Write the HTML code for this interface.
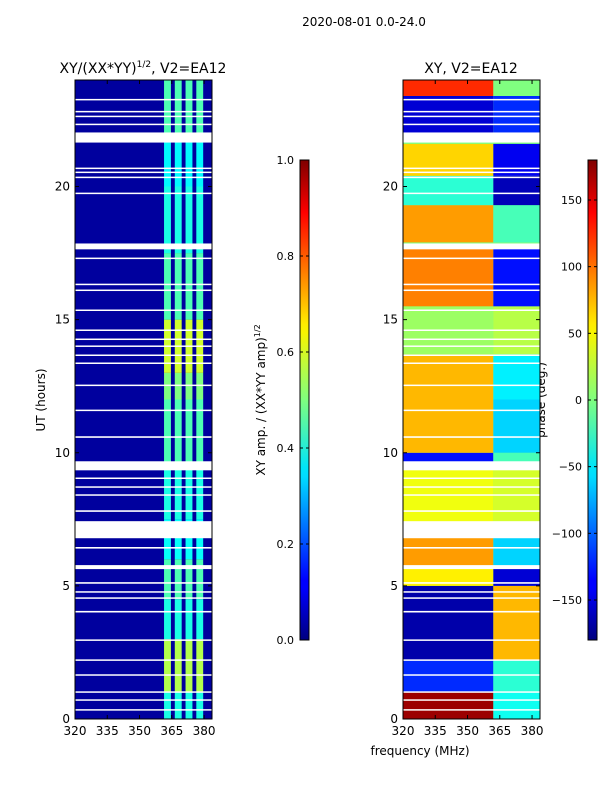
<!DOCTYPE html>
<html><head><meta charset="utf-8"><style>
html,body{margin:0;padding:0;background:#fff;}
svg{display:block;font-family:"DejaVu Sans","Liberation Sans",sans-serif;}
</style></head><body>
<svg id="fig" width="600" height="800" viewBox="0 0 600 800">
<text x="364" y="26" font-size="12" text-anchor="middle">2020-08-01 0.0-24.0</text>
<text x="143" y="73" font-size="14" text-anchor="middle">XY/(XX*YY)<tspan font-size="9" dy="-6">1/2</tspan><tspan dy="6">, V2=EA12</tspan></text>
<text x="471" y="73" font-size="14" text-anchor="middle">XY, V2=EA12</text>
<text transform="translate(45,400) rotate(-90)" font-size="12" text-anchor="middle">UT (hours)</text>
<text transform="translate(265,400) rotate(-90)" font-size="12" text-anchor="middle">XY amp. / (XX*YY amp)<tspan font-size="8" dy="-5">1/2</tspan></text>
<text transform="translate(545,400) rotate(-90)" font-size="12" text-anchor="middle">phase (deg.)</text>
<text x="420" y="755" font-size="12" text-anchor="middle">frequency (MHz)</text>
<defs>
<linearGradient id="jet" x1="0" y1="1" x2="0" y2="0">
<stop offset="0" stop-color="#00007f"/><stop offset="0.11" stop-color="#0000ff"/><stop offset="0.125" stop-color="#0000ff"/><stop offset="0.34" stop-color="#00dcff"/><stop offset="0.36" stop-color="#00e5f8"/><stop offset="0.5" stop-color="#7fff7f"/><stop offset="0.64" stop-color="#f8f500"/><stop offset="0.66" stop-color="#ffea00"/><stop offset="0.89" stop-color="#ff0000"/><stop offset="1" stop-color="#7f0000"/>
</linearGradient>
</defs>
<g id="left"></g>
<g id="right"></g>
<g id="axes"></g>
</svg>
<script>
// ---- data ----
const utTicks = [0, 5, 10, 15, 20];
const freqTicks = [320, 335, 350, 365, 380];
const ampTicks = [0.0, 0.2, 0.4, 0.6, 0.8, 1.0];
const phaseTicks = [-150, -100, -50, 0, 50, 100, 150];
const streakCenters = [363, 368, 373, 378];
const streakWidth = 3.2;
// amplitude bands: [utStart, utEnd, amp in streaks]
const ampBands = [[0,1,0.4],[1,3,0.55],[3,4.5,0.4],[4.5,6,0.45],[6,7.5,0.38],[7.5,9.5,0.4],[9.5,12,0.45],[12,13,0.5],[13,15,0.58],[15,17.5,0.45],[17.5,20,0.4],[20,22,0.37],[22,24,0.45]];
// phase bands: [utStart, utEnd, phase below 362 MHz, phase above 362 MHz]
const phaseBands = [[0,1,170,-40],[1,2.2,-120,-30],[2.2,5,-165,70],[5,5.7,50,-150],[5.7,6.8,80,-60],[7.4,9.4,40,30],[9.4,10,-130,-20],[10,12,70,-60],[12,13.7,70,-50],[13.7,15.5,10,20],[15.5,17.7,90,-130],[17.9,19.3,80,-20],[19.3,20.4,-30,-160],[20.4,21.6,60,-140],[22,23.4,-150,-120],[23.4,24,120,0]];
// white gaps (missing data): [utStart, utEnd]
const gaps = [[0.32,0.37],[0.69,0.74],[0.99,1.04],[1.63,1.68],[2.19,2.24],[2.94,2.99],[4.0,4.06],[4.52,4.57],[4.75,4.8],[5.08,5.14],[5.63,5.78],[6.4,6.46],[6.79,7.43],[7.78,7.84],[8.39,8.44],[8.69,8.74],[9.02,9.07],[9.34,9.68],[10.56,10.62],[11.57,11.62],[12.51,12.56],[13.34,13.39],[13.64,13.69],[13.98,14.03],[14.24,14.29],[14.58,14.63],[15.33,15.38],[16.08,16.13],[16.3,16.35],[17.28,17.33],[17.64,17.86],[19.72,19.77],[20.32,20.37],[20.51,20.56],[20.66,20.71],[21.65,22.03],[22.31,22.36],[22.61,22.66],[22.79,22.84],[23.24,23.29]];

// ---- scales ----
const NS = 'http://www.w3.org/2000/svg';
const yTop = 80, yBot = 719, utMax = 24;
const fMin = 320, fMax = 383.7;
const panels = [{x0:75,x1:212},{x0:403,x1:540}];
function yS(ut){ return yBot - (ut/utMax)*(yBot-yTop); }
function xS(p,f){ return p.x0 + (f-fMin)/(fMax-fMin)*(p.x1-p.x0); }
function cl(v){ return Math.max(0, Math.min(1, v)); }
function jet(v){
  v = cl(v);
  const r = cl(1.5-Math.abs(4*v-3)), g = cl(1.5-Math.abs(4*v-2)), b = cl(1.5-Math.abs(4*v-1));
  return 'rgb(' + Math.round(r*255) + ',' + Math.round(g*255) + ',' + Math.round(b*255) + ')';
}
function rect(parent, x, y, w, h, fill){
  const r = document.createElementNS(NS, 'rect');
  r.setAttribute('x', x); r.setAttribute('y', y); r.setAttribute('width', w); r.setAttribute('height', h);
  r.setAttribute('fill', fill);
  parent.appendChild(r); return r;
}
function line(parent, x1, y1, x2, y2){
  const l = document.createElementNS(NS, 'line');
  l.setAttribute('x1', x1); l.setAttribute('y1', y1); l.setAttribute('x2', x2); l.setAttribute('y2', y2);
  l.setAttribute('stroke', '#000'); l.setAttribute('stroke-width', 1);
  parent.appendChild(l); return l;
}
function txt(parent, x, y, s, anchor, size){
  const t = document.createElementNS(NS, 'text');
  t.setAttribute('x', x); t.setAttribute('y', y); t.setAttribute('font-size', size);
  t.setAttribute('text-anchor', anchor); t.textContent = s;
  parent.appendChild(t); return t;
}

// ---- left amplitude panel ----
const L = document.getElementById('left'), pL = panels[0];
const bg = rect(L, pL.x0, yTop, pL.x1-pL.x0, yBot-yTop, jet(0.03));


ampBands.forEach(b => {
  streakCenters.forEach(c => {
    const x0 = xS(pL, c-streakWidth/2), x1 = xS(pL, c+streakWidth/2);
    const r = rect(L, x0, yS(b[1]), x1-x0, yS(b[0])-yS(b[1]), jet(b[2]));
    
    
  });
});

// ---- right phase panel ----
const R = document.getElementById('right'), pR = panels[1];
rect(R, pR.x0, yTop, pR.x1-pR.x0, yBot-yTop, jet(0.5));
phaseBands.forEach(b => {
  const y0 = yS(b[1]), h = yS(b[0]) - yS(b[1]);
  const r1 = rect(R, xS(pR,fMin), y0, xS(pR,362)-xS(pR,fMin), h, jet((b[2]+180)/360));
  
  
  const r2 = rect(R, xS(pR,362), y0, xS(pR,fMax)-xS(pR,362), h, jet((b[3]+180)/360));
  
  
});

// ---- gaps ----
panels.forEach((p, i) => {
  const g = i===0 ? L : R;
  gaps.forEach(gp => {
    const r = rect(g, p.x0, yS(gp[1]), p.x1-p.x0, Math.max(1.5, yS(gp[0])-yS(gp[1])), '#fff');
    
    
  });
});

// ---- axes ----
const A = document.getElementById('axes');
panels.forEach((p, i) => {
  const fr = rect(A, p.x0, yTop, p.x1-p.x0, yBot-yTop, 'none');
  fr.setAttribute('stroke', '#000');
  
  
  utTicks.forEach(u => {
    line(A, p.x0, yS(u), p.x0+4, yS(u));
    line(A, p.x1, yS(u), p.x1-4, yS(u));
    const t = txt(A, p.x0-5, yS(u)+4, String(u), 'end', 12);
    
    
  });
  freqTicks.forEach(f => {
    line(A, xS(p,f), yBot, xS(p,f), yBot-4);
    line(A, xS(p,f), yTop, xS(p,f), yTop+4);
    const t = txt(A, xS(p,f), yBot+16, String(f), 'middle', 12);
    
    
  });
});

// ---- colorbars ----
const cbs = [{x:300, min:0, max:1, ticks:ampTicks, fmt:v=>v.toFixed(1), name:'amplitude-colorbar'},
             {x:588, min:-180, max:180, ticks:phaseTicks, fmt:v=>v<0?'\u2212'+Math.abs(v):String(v), name:'phase-colorbar'}];
const cTop = 160, cBot = 640, cW = 9;
cbs.forEach(c => {
  const r = rect(A, c.x, cTop, cW, cBot-cTop, 'url(#jet)');
  r.setAttribute('stroke', '#000');
  
  
  c.ticks.forEach(v => {
    const y = cBot - (v-c.min)/(c.max-c.min)*(cBot-cTop);
    line(A, c.x, y, c.x+3, y);
    line(A, c.x+cW, y, c.x+cW-3, y);
    const t = txt(A, c.x-6, y+4, c.fmt(v), 'end', 11);
    
    
  });
});
</script>
</body></html>
